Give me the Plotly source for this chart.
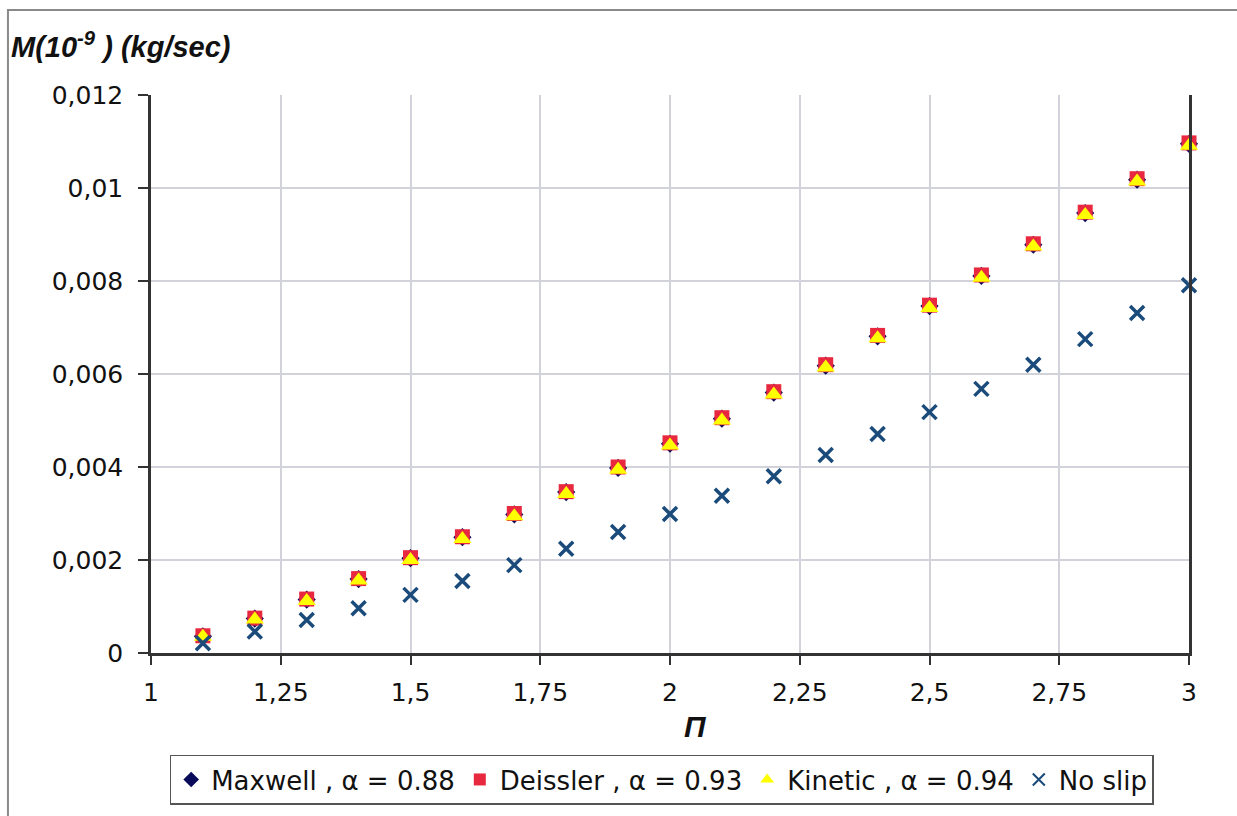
import plotly.graph_objects as go

pi_vals = [1.1, 1.2, 1.3, 1.4, 1.5, 1.6, 1.7, 1.8, 1.9, 2.0, 2.1, 2.2, 2.3, 2.4, 2.5, 2.6, 2.7, 2.8, 2.9, 3.0]
maxwell = [0.00036, 0.00074, 0.00115, 0.00159, 0.00204, 0.00249, 0.00298, 0.00346, 0.00398, 0.0045, 0.00504, 0.0056, 0.00618, 0.00681, 0.00746, 0.00811, 0.00878, 0.00946, 0.01018, 0.01095]
deissler = [0.00037, 0.00075, 0.00116, 0.0016, 0.00205, 0.0025, 0.003, 0.00347, 0.004, 0.00452, 0.00506, 0.00562, 0.0062, 0.00683, 0.00748, 0.00813, 0.0088, 0.00948, 0.0102, 0.01097]
kinetic = [0.00035, 0.00072, 0.00112, 0.00156, 0.002, 0.00245, 0.00294, 0.00342, 0.00394, 0.00446, 0.005, 0.00556, 0.00614, 0.00677, 0.00742, 0.00807, 0.00874, 0.00942, 0.01014, 0.01091]
no_slip = [0.00021, 0.00046, 0.00071, 0.00096, 0.00125, 0.00155, 0.00189, 0.00224, 0.0026, 0.00299, 0.00338, 0.0038, 0.00426, 0.00471, 0.00518, 0.00568, 0.0062, 0.00675, 0.00731, 0.00791]

x_tick_vals = [1, 1.25, 1.5, 1.75, 2, 2.25, 2.5, 2.75, 3]
x_tick_text = ["1", "1,25", "1,5", "1,75", "2", "2,25", "2,5", "2,75", "3"]
y_tick_vals = [0, 0.002, 0.004, 0.006, 0.008, 0.01, 0.012]
y_tick_text = ["0", "0,002", "0,004", "0,006", "0,008", "0,01", "0,012"]

FONT = "DejaVu Sans"

fig = go.Figure()
fig.add_trace(go.Scatter(x=pi_vals, y=maxwell, mode="markers", name="Maxwell , α = 0.88",
                         marker=dict(symbol="diamond", size=14, color="#0A0A5A"), cliponaxis=False))
fig.add_trace(go.Scatter(x=pi_vals, y=deissler, mode="markers", name="Deissler , α = 0.93",
                         marker=dict(symbol="square", size=15, color="#E8283F"), cliponaxis=False))
fig.add_trace(go.Scatter(x=pi_vals, y=kinetic, mode="markers", name="Kinetic , α = 0.94",
                         marker=dict(symbol="triangle-up", size=16, color="#FFFF00"), cliponaxis=False))
fig.add_trace(go.Scatter(x=pi_vals, y=no_slip, mode="markers", name="No slip",
                         marker=dict(symbol="x-thin-open", size=14, color="#1B4B7A",
                                     line=dict(width=3.5, color="#1B4B7A")), cliponaxis=False))

fig.update_layout(
    width=1237, height=816,
    margin=dict(l=151, r=48, t=95, b=163),
    paper_bgcolor="white", plot_bgcolor="white",
    font=dict(family=FONT, size=25, color="#111111"),
    showlegend=True,
    legend=dict(orientation="h", x=0.018, y=-0.182, xanchor="left", yanchor="top",
                bordercolor="#555555", borderwidth=1.5, font=dict(family=FONT, size=26, color="#111111"),
                itemsizing="constant", tracegroupgap=0, itemwidth=30),
    xaxis=dict(range=[1, 3], tickvals=x_tick_vals, ticktext=x_tick_text,
               showgrid=True, gridcolor="#D2D3DA", gridwidth=1.5,
               showline=True, linecolor="#333333", linewidth=2.5,
               ticks="outside", ticklen=9, tickcolor="#333333", tickwidth=2,
               zeroline=False, ticklabelstandoff=6,
               tickfont=dict(family=FONT, size=25)),
    yaxis=dict(range=[0, 0.012], tickvals=y_tick_vals, ticktext=y_tick_text,
               showgrid=True, gridcolor="#D2D3DA", gridwidth=1.5,
               showline=True, linecolor="#333333", linewidth=2.5, mirror=True,
               ticks="outside", ticklen=10, tickcolor="#333333", tickwidth=2,
               zeroline=False, ticklabelstandoff=10,
               tickfont=dict(family=FONT, size=25)),
    annotations=[
        dict(text="<b><i>M(10<sup>-9</sup> ) (kg/sec)</i></b>", xref="paper", yref="paper",
             x=-0.137, y=1.09, xanchor="left", yanchor="middle", showarrow=False,
             font=dict(family="Liberation Sans", size=29, color="#111111")),
        dict(text="<b><i>Π</i></b>", xref="paper", yref="paper",
             x=0.525, y=-0.132, xanchor="center", yanchor="middle", showarrow=False,
             font=dict(family="Liberation Sans", size=30, color="#111111")),
    ],
    shapes=[
        dict(type="rect", xref="paper", yref="paper", x0=-0.1378, x1=1.06, y0=-0.32, y1=1.1523,
             line=dict(color="#8A8A8A", width=2), fillcolor="rgba(0,0,0,0)", layer="below"),
    ],
)

fig.write_html("out.html")
